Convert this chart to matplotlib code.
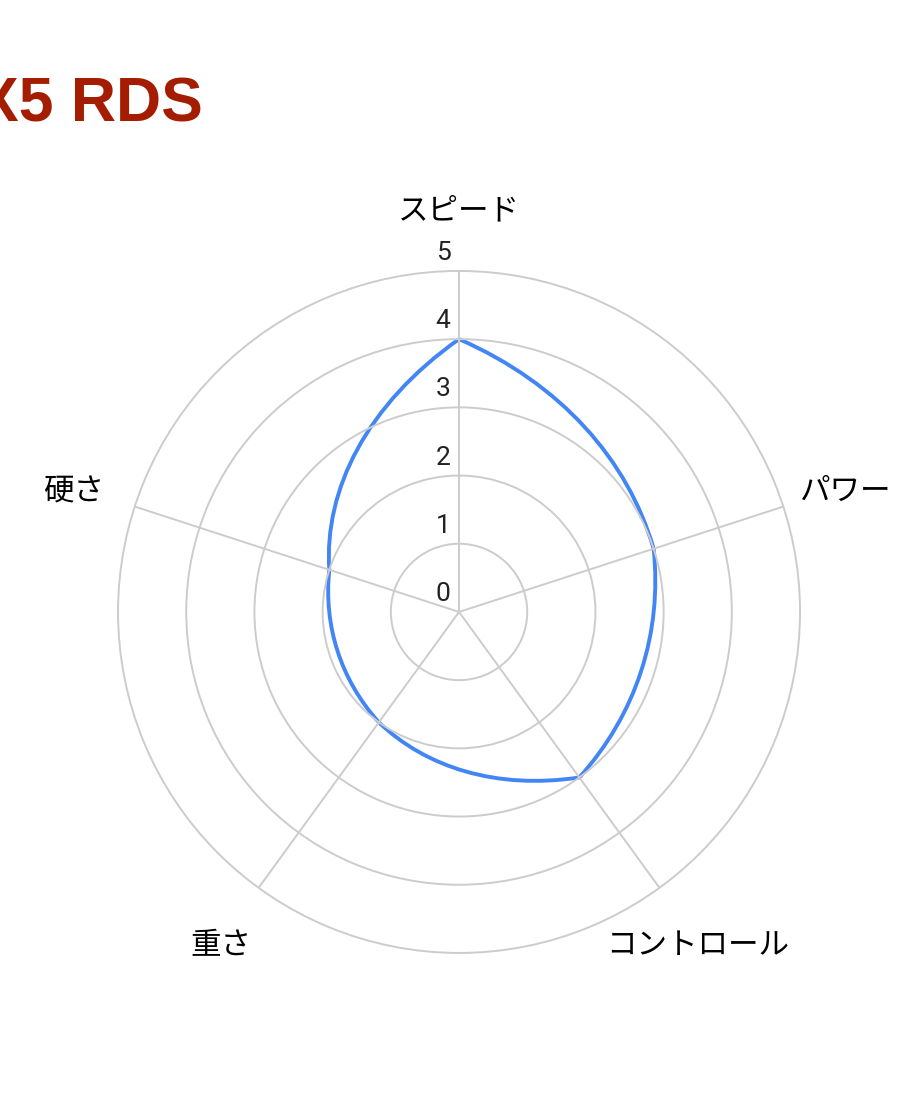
'''
radar chart of racket ratings
'''
# Load packages -------------------------------------------
import numpy as np
import matplotlib
matplotlib.use('Agg')
import matplotlib.pyplot as plt
from matplotlib.path import Path
from matplotlib.patches import PathPatch

# Data ----------------------------------------------------
title = 'X5 RDS'
categories = ['スピード', 'パワー', 'コントロール', '重さ', '硬さ']
values = [4, 3, 3, 2, 2]
r_ticks = [0, 1, 2, 3, 4, 5]

# Plot ----------------------------------------------------
fig = plt.figure(figsize=(9.2, 11.04), dpi=100)
ax = fig.add_axes([0.1283, 0.1368, 0.7413, 0.6178], projection='polar')

ax.set_theta_zero_location('N')
ax.set_theta_direction(-1)

# angles for each category:
n = len(categories)
theta = np.arange(n) * 2 * np.pi / n

# grid:
ax.set_xticks(theta)
ax.set_xticklabels([])
ax.set_yticks(r_ticks[1:])
ax.set_yticklabels([])
ax.grid(True, color='#cccccc', linewidth=1.4)
for gl in ax.yaxis.get_gridlines():
    gl.set_clip_on(False)
ax.spines['polar'].set_visible(False)
ax.tick_params(length=0)

# series: one cubic bezier per segment, control points at thirds in (theta, r)
th = np.append(theta, 2 * np.pi)
rv = np.append(values, values[0]).astype(float)
verts = [(th[0], rv[0])]
codes = [Path.MOVETO]
for i in range(n):
    dt = th[i + 1] - th[i]
    dr = rv[i + 1] - rv[i]
    verts += [(th[i] + dt / 3, rv[i] + dr / 3),
              (th[i] + 2 * dt / 3, rv[i] + 2 * dr / 3),
              (th[i + 1], rv[i + 1])]
    codes += [Path.CURVE4] * 3
ax.add_patch(PathPatch(Path(verts, codes), fill=False,
                       edgecolor='#4285f4', linewidth=2.8))

ax.set_ylim(0, 5)

# category labels:
for t, c in zip(theta, categories):
    ax.annotate(c, xy=(t, 5.95), xytext=(0, -5), textcoords='offset pixels',
                ha='center', va='center', fontsize=22,
                family=['Noto Sans CJK JP', 'DejaVu Sans'],
                annotation_clip=False)

# radial tick labels:
for r in r_ticks:
    ax.annotate(str(r), xy=(0, r), xytext=(-16, 18), textcoords='offset pixels',
                ha='center', va='center', fontsize=19, family='Roboto',
                color='#222222', annotation_clip=False)

# title:
fig.text(203 / 920, 1 - 122 / 1104, title, ha='right', va='baseline',
         fontsize=45, fontweight='bold', family='Liberation Sans',
         color='#a51d00')

# Save plot:
plt.savefig('out.png', dpi=100)
